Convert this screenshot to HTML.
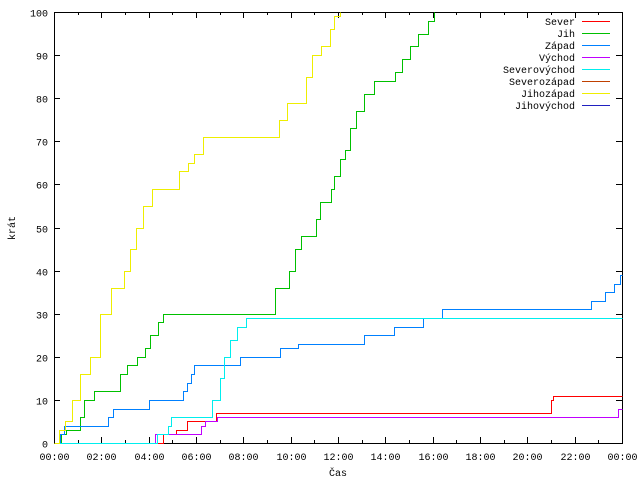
<!DOCTYPE html>
<html><head><meta charset="utf-8"><style>
body{margin:0;background:#fff}
svg text{font-family:"Liberation Mono",monospace;font-size:10px;fill:#000}
svg path,svg line,svg rect{shape-rendering:crispEdges}
</style></head><body>
<svg id="chart" width="640" height="480" xmlns="http://www.w3.org/2000/svg">
<g id="axes"></g>
<g id="series"></g>
<g id="legend"></g>
<text x="338" y="476" text-anchor="middle">Čas</text>
<text x="15" y="228" text-anchor="middle" transform="rotate(-90 15 228)">krát</text>
</svg>
<script>
const xTickLabels=["00:00","02:00","04:00","06:00","08:00","10:00","12:00","14:00","16:00","18:00","20:00","22:00","00:00"];
const yTickLabels=[0,10,20,30,40,50,60,70,80,90,100];
const seriesNames=["Sever","Jih","Západ","Východ","Severovýchod","Severozápad","Jihozápad","Jihovýchod"];
const seriesColors=["#ff0000","#00c000","#0080ff","#c000ff","#00eeee","#c04000","#eeee00","#2020c0"];
// times in hours, cumulative counts
const severT=[0,4.6,5.15,5.6,6.85,21.0,21.1,24];
const severV=[0,2,3,5,7,10,11,11];
const jihT=[0,0.3,0.5,0.9,1.1,1.27,1.7,2.5,2.8,3.1,3.5,3.85,4.05,4.4,4.6,9.08,9.34,9.7,9.95,10.2,10.44,10.8,11.05,11.24,11.7,11.85,12.1,12.3,12.5,12.75,13.1,13.52,14.15,14.4,14.7,15.05,15.38,15.8,16.05];
const jihV=[0,2,3,3,6,10,12,12,16,18,20,22,25,28,30,30,36,36,40,45,48,48,52,56,59,62,66,68,73,77,81,84,84,86,89,92,95,98,100];
const zapadT=[0,0.25,0.42,2.15,2.28,2.5,3.9,4.0,5.3,5.45,5.6,5.8,5.9,7.7,7.85,9.4,9.55,10.2,10.3,13.0,13.1,14.25,14.35,15.5,15.6,16.3,16.4,22.6,22.7,23.2,23.3,23.65,23.9,24];
const zapadV=[0,2,4,4,6,8,8,10,10,12,14,16,18,18,20,20,22,22,23,23,25,25,27,27,29,29,31,31,33,33,35,37,39,39];
const vychodT=[0,4.25,6.1,6.2,6.4,6.8,6.9,23.75,23.85,24];
const vychodV=[0,2,2,4,5,5,6,6,8,8];
const severovychodT=[0,4.35,4.73,4.82,4.95,6.5,6.68,7.0,7.2,7.45,7.75,8.1,24];
const severovychodV=[0,2,2,4,6,6,10,15,20,24,27,29,29];
const jihozapadT=[0,0.2,0.45,0.76,1.1,1.5,1.95,2.4,2.96,3.2,3.46,3.76,4.14,5.15,5.3,5.66,5.9,6.3,9.34,9.5,9.85,10.35,10.65,10.9,11.3,11.65,11.85,12.1];
const jihozapadV=[0,3,5,10,16,20,30,36,40,45,50,55,59,59,63,65,67,71,71,75,79,79,85,90,92,96,99,100];
const allT=[severT,jihT,zapadT,vychodT,severovychodT,[],jihozapadT,[]];
const allV=[severV,jihV,zapadV,vychodV,severovychodV,[],jihozapadV,[]];

const X0=54,X1=622,Y0=443,Y1=12;
const sx=h=>Math.round(X0+h*(X1-X0)/24)+0.5;
const sy=v=>Math.round(Y0-v*(Y0-Y1)/100)+0.5;
const NS="http://www.w3.org/2000/svg";
function mk(tag,attrs,parent){const e=document.createElementNS(NS,tag);for(const k in attrs)e.setAttribute(k,attrs[k]);parent.appendChild(e);return e;}
const axes=document.getElementById('axes');
const frame=mk('rect',{x:X0+0.5,y:Y1+0.5,width:X1-X0,height:Y0-Y1,fill:'none',stroke:'#000','stroke-width':1},axes);


for(let h=0;h<=24;h++){
  const x=sx(h),len=(h%2==0)?6:3;
  const t=mk('path',{d:`M${x} ${Y0}v${-len}M${x} ${Y1}v${len}`,stroke:'#000','stroke-width':1},axes);
  
  
}
xTickLabels.forEach((l,i)=>{
  const t=mk('text',{x:sx(i*2),y:Y0+17,'text-anchor':'middle'},axes);t.textContent=l;
  
  
});
yTickLabels.forEach(v=>{
  const y=sy(v);
  const t=mk('path',{d:`M${X0} ${y}h6M${X1} ${y}h-6`,stroke:'#000','stroke-width':1},axes);
  
  
  const l=mk('text',{x:X0-6,y:y+4,'text-anchor':'end'},axes);l.textContent=v;
  
  
});
const sg=document.getElementById('series');
allT.forEach((T,i)=>{
  if(!T.length)return;
  const V=allV[i];
  let d=`M${sx(T[0])} ${sy(V[0])}`;
  for(let k=1;k<T.length;k++){d+=`H${sx(T[k])}V${sy(V[k])}`;}
  const p=mk('path',{d:d,fill:'none',stroke:seriesColors[i],'stroke-width':1},sg);
  
  
});
const lg=document.getElementById('legend');
seriesNames.forEach((n,i)=>{
  const y=21+i*12;
  const t=mk('text',{x:575,y:y+4,'text-anchor':'end'},lg);t.textContent=n;
  
  
  const l=mk('line',{x1:582,x2:610,y1:y+0.5,y2:y+0.5,stroke:seriesColors[i],'stroke-width':1},lg);
  
  
});
</script>
</body></html>
